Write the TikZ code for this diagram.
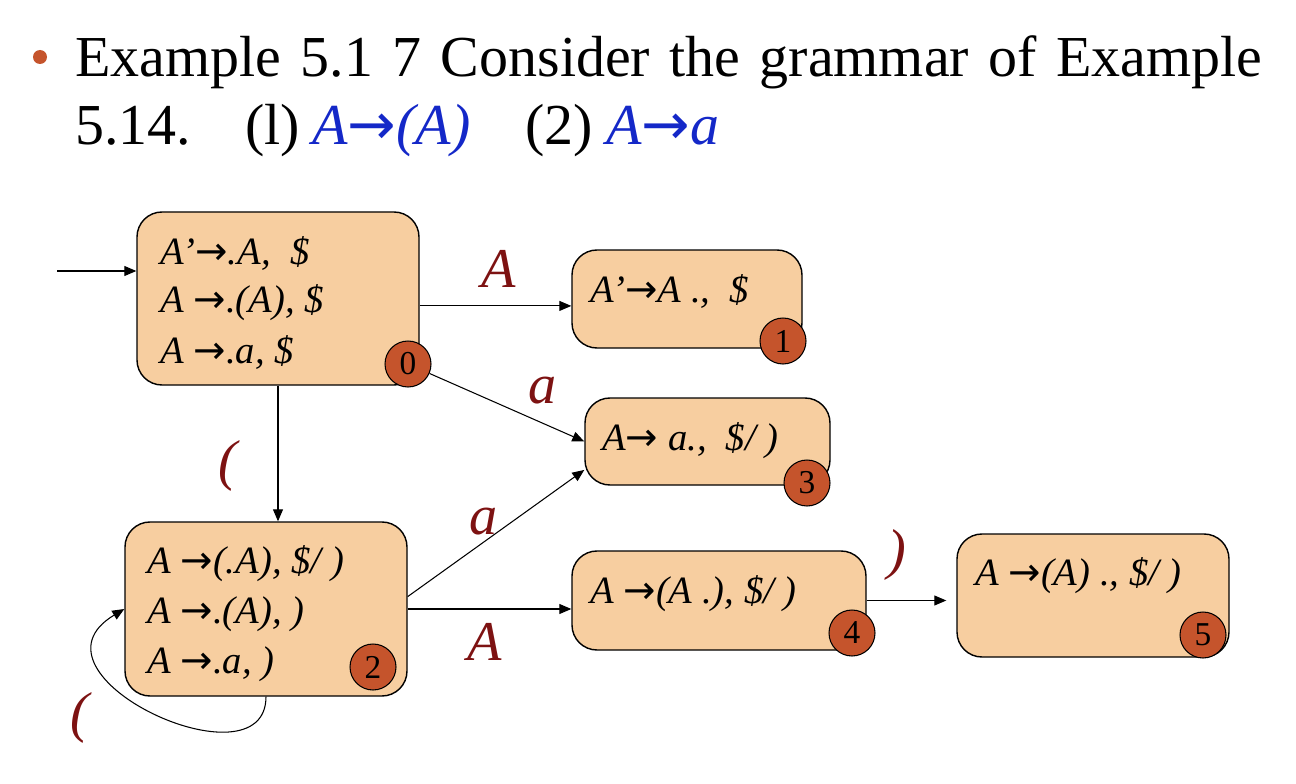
\documentclass[tikz,border=0pt]{standalone}
\usepackage{fontspec}
\setmainfont{Liberation Serif}
\newfontfamily\serifFont{Liberation Serif}
\newfontfamily\arrowFont{DejaVu Sans}
\usetikzlibrary{arrows.meta}
\definecolor{stateFill}{RGB}{247,206,160}
\definecolor{badgeFill}{RGB}{197,84,44}
\definecolor{labelRed}{RGB}{125,18,18}
\definecolor{ruleBlue}{RGB}{20,40,200}
\tikzstyle{diagram} = [x = 0.02cm, y = -0.02cm]
\tikzstyle{stateStyle} = [draw=black, fill=stateFill, rounded corners = .5cm, line width=.8pt, inner sep=0pt]
\tikzstyle{badgeStyle} = [circle, draw=black, fill=badgeFill, line width=.6pt, inner sep=0pt, minimum size=.92cm, font=\serifFont\fontsize{19}{19}\selectfont]
\tikzstyle{itemText} = [anchor=base west, inner sep=0pt, font=\serifFont\fontsize{22}{24}\selectfont\itshape]
\tikzstyle{edgeLine} = [-{Triangle[length=.24cm, width=.2cm]}, line width=.6pt]
\tikzstyle{edgeLabel} = [text=labelRed, font=\serifFont\fontsize{32}{32}\selectfont\itshape, inner sep=0pt]
\tikzstyle{titleText} = [anchor=base west, inner sep=0pt, font=\serifFont\fontsize{33}{33}\selectfont]
\newcommand{\unitPx}{0.02cm}
\newcommand{\itemArrow}{{\arrowFont\upshape →}}
\newcommand{\stateBox}[5]{\node [stateStyle, minimum width=(#4-#2)*\unitPx, minimum height=(#5-#3)*\unitPx] (#1) at ({(#2+#4)/2}, {(#3+#5)/2}) {};}
\newcommand{\stateBadge}[4]{\node [badgeStyle] (#1) at (#2, #3) {#4};}
\newcommand{\itemLine}[4]{\node [itemText] (#1) at (#2, #3) {#4};}

\begin{document}
\begin{tikzpicture}[diagram]
  \useasboundingbox (0,0) rectangle (1296,784);

  % title
  \fill [badgeFill] (40,57) circle (7);
  \node [titleText] (titleOne) at (75,77) {\makebox[23.74cm][s]{Example 5.1 7 Consider the grammar of Example}};
  \node [titleText] (titleTwo) at (75,145) {5.14.};
  \node [titleText] (ruleOneNum) at (245,145) {(l)};
  \node [titleText, text=ruleBlue] (ruleOne) at (312,145) {\itshape A\itemArrow(A)};
  \node [titleText] (ruleTwoNum) at (525,145) {(2)};
  \node [titleText, text=ruleBlue] (ruleTwo) at (606,145) {\itshape A\itemArrow a};

  % states
  \stateBox{s0}{137}{212}{419}{385}
  \stateBox{s1}{572}{250}{802}{348}
  \stateBox{s3}{585}{398}{830}{485}
  \stateBox{s2}{125}{522}{407}{696}
  \stateBox{s4}{572}{551}{866}{650}
  \stateBox{s5}{957}{534}{1229}{657}

  \itemLine{s0a}{160}{264}{A’\itemArrow.A,\ \ \$}
  \itemLine{s0b}{160}{313}{A \itemArrow.(A), \$}
  \itemLine{s0c}{160}{363}{A \itemArrow.a, \$}
  \itemLine{s1a}{590}{302}{A’\itemArrow A .,\ \ \$}
  \itemLine{s3a}{602}{450}{A\itemArrow\ a.,\ \ \$/ )}
  \itemLine{s2a}{147}{573}{A \itemArrow(.A), \$/ )}
  \itemLine{s2b}{147}{623}{A \itemArrow.(A), )}
  \itemLine{s2c}{147}{673}{A \itemArrow.a, )}
  \itemLine{s4a}{590}{603}{A \itemArrow(A .), \$/ )}
  \itemLine{s5a}{975}{585}{A \itemArrow(A) ., \$/ )}

  \stateBadge{b0}{408}{364}{0}
  \stateBadge{b1}{783}{341}{1}
  \stateBadge{b3}{807}{483}{3}
  \stateBadge{b2}{373}{667}{2}
  \stateBadge{b4}{852}{633}{4}
  \stateBadge{b5}{1203}{635}{5}

  % transitions
  \coordinate (start) at (57,271);
  \draw [edgeLine] (start) -- (start -| s0.west);
  \draw [edgeLine] (s0.-3.5) -- (s0.-3.5 -| s1.west);
  \draw [edgeLine] (b0) -- (s3.west);
  \draw [edgeLine] (s0.south) -- (s0.south |- s2.north);
  \draw [edgeLine] (s2.5) -- (s3.193);
  \draw [edgeLine] (s2.-0.5) -- (s2.-0.5 -| s4.west);
  \draw [edgeLine, shorten >=10*\unitPx] (s4.east) -- (s4.east -| s5.west);
  \draw [edgeLine] (s2.south) .. controls +(0,94) and +(-110,66) .. (s2.west);

  \node [edgeLabel] (labA) at (499,269) {A};
  \node [edgeLabel] (labLowA) at (543,391) {a};
  \node [edgeLabel] (labParen) at (228,466) {(};
  \node [edgeLabel] (labLowAtwo) at (484,522) {a};
  \node [edgeLabel] (labAtwo) at (485,642) {A};
  \node [edgeLabel] (labClose) at (897,555) {)};
  \node [edgeLabel] (labLoop) at (80,718) {(};
\end{tikzpicture}
\end{document}
